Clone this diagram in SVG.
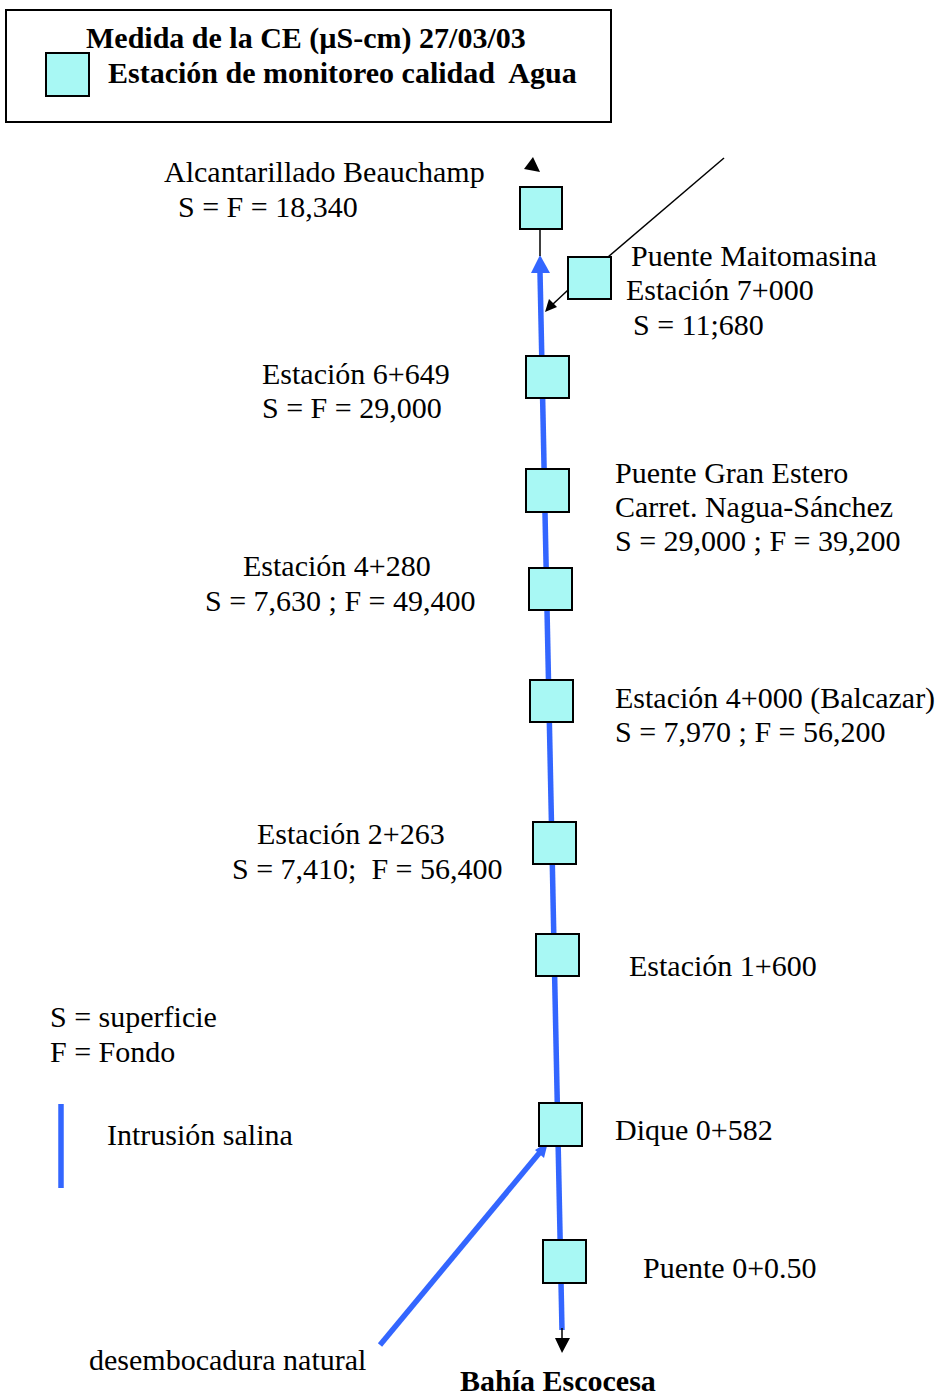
<svg xmlns="http://www.w3.org/2000/svg" width="939" height="1395" viewBox="0 0 939 1395">
<style>
text{font-family:"Liberation Serif","Times New Roman",serif;font-size:30px;fill:#000}
.b{font-weight:bold}
.st{fill:#a8f8f4;stroke:#000;stroke-width:2}
.blue{stroke:#3366ff;stroke-width:5.5;fill:none}
.thin{stroke:#000;stroke-width:1.5;fill:none}
</style>
<rect x="0" y="0" width="939" height="1395" fill="#fff"/>
<g id="legend">
<rect x="6" y="10" width="605" height="112" fill="#fff" stroke="#000" stroke-width="2"/>
<rect class="st" x="46" y="53" width="43" height="43"/>
<text class="b" x="86" y="48">Medida de la CE (µS-cm) 27/03/03</text>
<text class="b" x="108" y="83" xml:space="preserve">Estación de monitoreo calidad  Agua</text>
</g>
<g id="connectors">
<line class="blue" x1="562" y1="1330" x2="540" y2="272"/>
<path d="M540,255L550,273L531,273Z" fill="#3366ff"/>
<line class="thin" x1="540" y1="229" x2="540" y2="256"/>
<path d="M533,157L524,169L540,172Z" fill="#000"/>
<line class="thin" x1="724" y1="158" x2="608" y2="257"/>
<line class="thin" x1="568" y1="290" x2="552" y2="305"/>
<path d="M545,312L549,299L557,307Z" fill="#000"/>
<line class="thin" x1="562" y1="1328" x2="562" y2="1340"/>
<path d="M555,1338L570,1338L562,1353Z" fill="#000"/>
<line class="blue" x1="380" y1="1345" x2="541" y2="1151"/>
<path d="M548,1142L544,1158L535,1150Z" fill="#3366ff"/>
<line class="blue" x1="61" y1="1104" x2="61" y2="1188"/>
</g>
<g id="n1"><rect class="st" x="520" y="187" width="42" height="42"/><text x="164" y="182">Alcantarillado Beauchamp</text><text x="178" y="217">S = F = 18,340</text></g>
<g id="n2"><rect class="st" x="568" y="257" width="43" height="42"/><text x="631" y="266">Puente Maitomasina</text><text x="626" y="300">Estación 7+000</text><text x="633" y="335">S = 11;680</text></g>
<g id="n3"><rect class="st" x="526" y="356" width="43" height="42"/><text x="262" y="384">Estación 6+649</text><text x="262" y="418">S = F = 29,000</text></g>
<g id="n4"><rect class="st" x="526" y="469" width="43" height="43"/><text x="615" y="483">Puente Gran Estero</text><text x="615" y="517">Carret. Nagua-Sánchez</text><text x="615" y="551">S = 29,000 ; F = 39,200</text></g>
<g id="n5"><rect class="st" x="529" y="568" width="43" height="42"/><text x="243" y="576">Estación 4+280</text><text x="205" y="611">S = 7,630 ; F = 49,400</text></g>
<g id="n6"><rect class="st" x="530" y="680" width="43" height="42"/><text x="615" y="708">Estación 4+000 (Balcazar)</text><text x="615" y="742">S = 7,970 ; F = 56,200</text></g>
<g id="n7"><rect class="st" x="533" y="822" width="43" height="42"/><text x="257" y="844">Estación 2+263</text><text x="232" y="879" xml:space="preserve">S = 7,410;  F = 56,400</text></g>
<g id="n8"><rect class="st" x="536" y="934" width="43" height="42"/><text x="629" y="976">Estación 1+600</text></g>
<g id="n9"><rect class="st" x="539" y="1103" width="43" height="43"/><text x="615" y="1140">Dique 0+582</text></g>
<g id="n10"><rect class="st" x="543" y="1240" width="43" height="43"/><text x="643" y="1278">Puente 0+0.50</text></g>
<g id="notes">
<text x="50" y="1027">S = superficie</text>
<text x="50" y="1062">F = Fondo</text>
<text x="107" y="1145">Intrusión salina</text>
<text x="89" y="1370">desembocadura natural</text>
<text class="b" x="460" y="1391">Bahía Escocesa</text>
</g>
</svg>
